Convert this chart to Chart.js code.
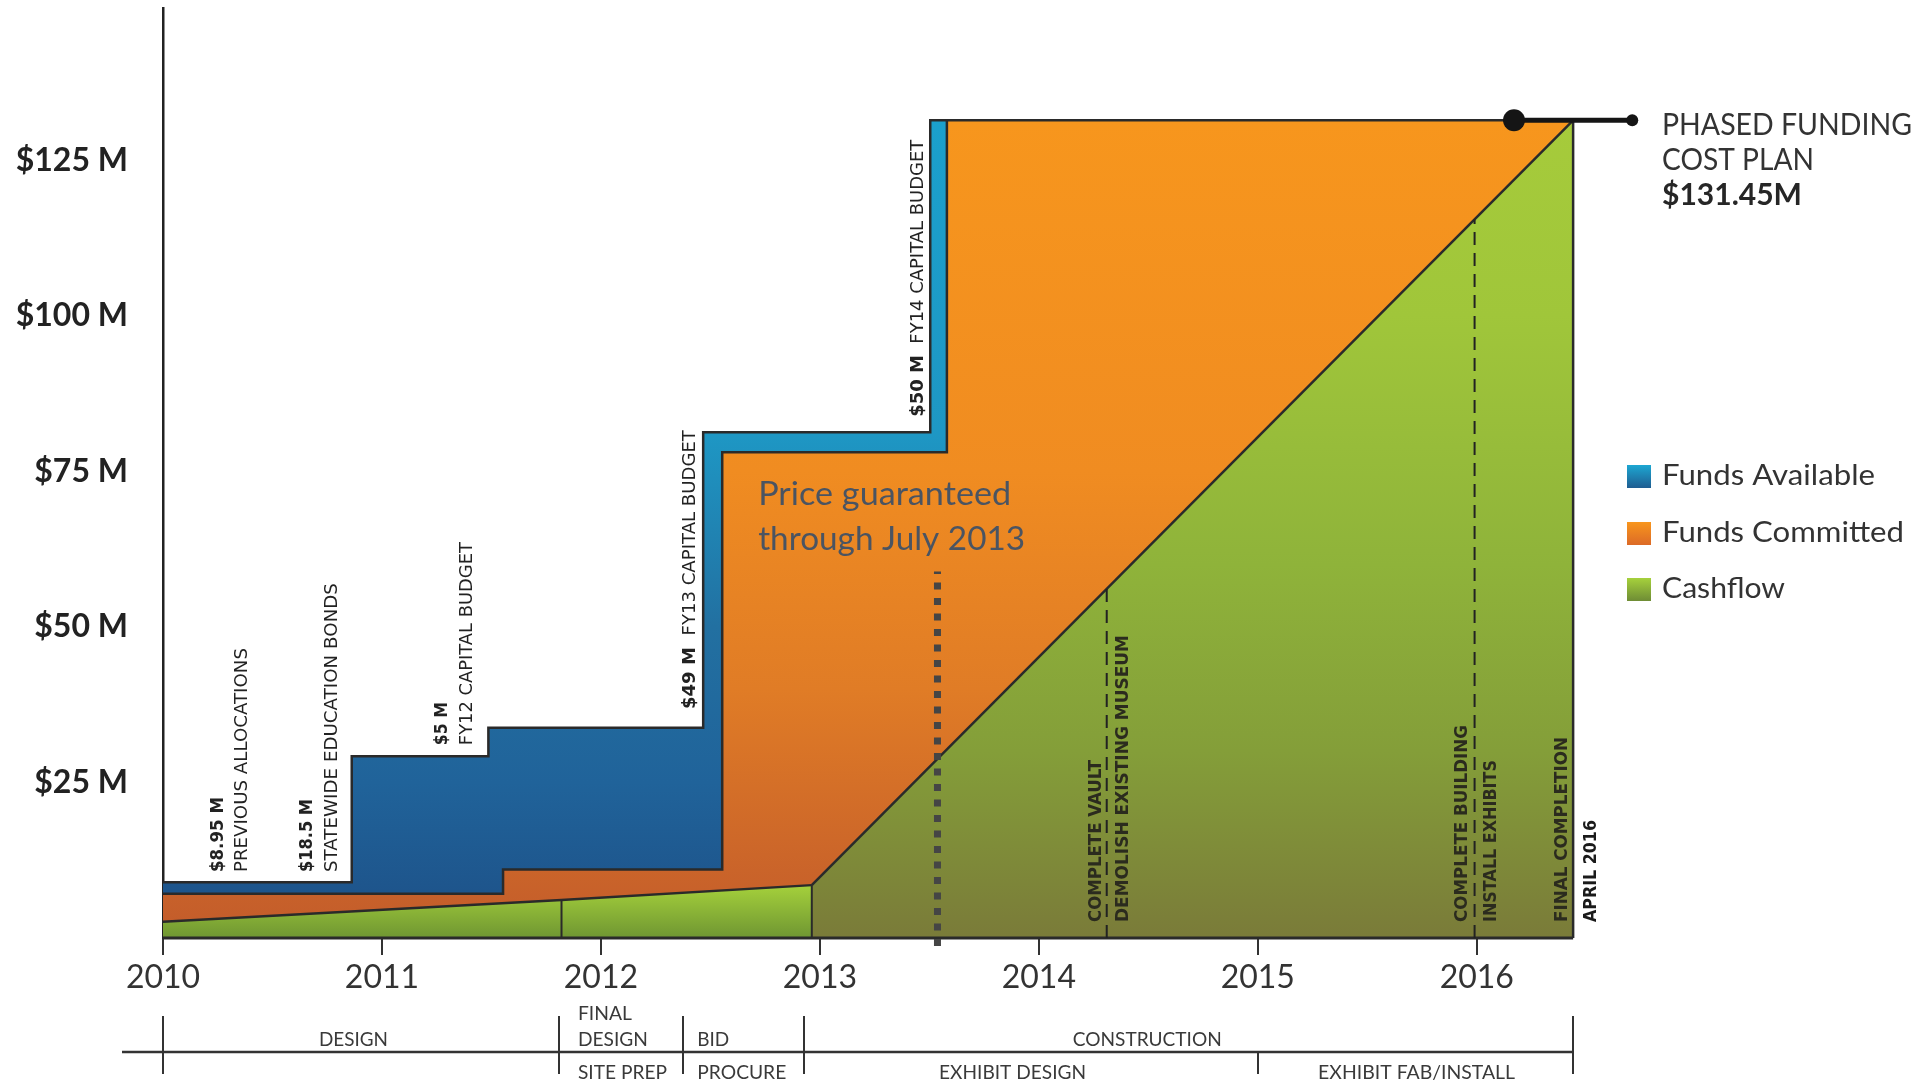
<!DOCTYPE html>
<html><head><meta charset="utf-8">
<script src="https://cdn.jsdelivr.net/npm/chart.js@4.4.0/dist/chart.umd.min.js"></script>
<style>html,body{margin:0;padding:0;background:#fff;overflow:hidden}</style>
</head><body>
<canvas id="c" width="1917" height="1081"></canvas>
<script>
// ---------- data ----------
const xTickYears = [2010, 2011, 2012, 2013, 2014, 2015, 2016];
const yTickValues = [25, 50, 75, 100, 125];
const fundsAvailableX = [2010, 2010.862, 2011.486, 2012.467, 2013.504, 2016.44];
const fundsAvailableY = [8.95, 29.2, 33.8, 81.3, 131.45, 131.45];
const fundsCommittedX = [2010, 2011.553, 2012.554, 2013.58, 2016.44];
const fundsCommittedY = [7.1, 11.0, 78.1, 131.45, 131.45];
const cashflowEarlyX = [2010, 2011.82, 2012.963];
const cashflowEarlyY = [2.6, 6.1, 8.5];
const cashflowLateX = [2012.963, 2016.44];
const cashflowLateY = [8.5, 131.45];
const costPlanX = [2016.17, 2016.71];
const costPlanY = [131.45, 131.45];
const milestoneX = [2013.537, 2014.31, 2015.99];
const milestoneTop = [58.9, 56.1, 115.5];
const milestoneBottom = [-1.3, 0, 0];
const phaseBounds = [2010, 2011.81, 2012.374, 2012.927, 2015.0, 2016.44];
const phaseMinorBounds = [2015.0];

const pts = (xs, ys) => xs.map((x, i) => ({x, y: ys[i]}));
const vline = (x, y0, y1) => [{x, y: y0}, {x, y: y1}];

function vGrad(stops) {
  return (ctx) => {
    const ch = ctx.chart, ys = ch.scales.y;
    if (!ch.chartArea || !ys) return stops[0][1];
    const y0 = ys.getPixelForValue(stops[0][0]);
    const y1 = ys.getPixelForValue(stops[stops.length - 1][0]);
    const g = ch.ctx.createLinearGradient(0, y0, 0, y1);
    stops.forEach(([v, c]) => g.addColorStop(Math.min(1, Math.max(0, (ys.getPixelForValue(v) - y0) / (y1 - y0))), c));
    return g;
  };
}

const EDGE = '#2a2a2a';
const base = {pointRadius: 0, borderColor: EDGE, borderWidth: 2.5, fill: false, clip: false, tension: 0};

const datasets = [
  Object.assign({}, base, {label: 'Funds Available', data: pts(fundsAvailableX, fundsAvailableY), stepped: true, fill: 'origin', order: 6,
    backgroundColor: vGrad([[131.45, '#1ba0cc'], [81, '#1e97c4'], [50, '#2270a1'], [25, '#20639a'], [0, '#1d4f86']])}),
  Object.assign({}, base, {label: 'Funds Committed', data: pts(fundsCommittedX, fundsCommittedY), stepped: true, fill: 'origin', order: 5,
    backgroundColor: vGrad([[131.45, '#f7961d'], [75, '#f08c21'], [40, '#e07c26'], [0, '#c25b2b']])}),
  Object.assign({}, base, {label: 'Cashflow', data: pts(cashflowLateX, cashflowLateY), fill: 'origin', order: 4,
    backgroundColor: vGrad([[131.45, '#a6cb3b'], [100, '#a0c63a'], [60, '#8fb33a'], [30, '#849e39'], [0, '#7a7b39']])}),
  Object.assign({}, base, {label: 'Cashflow (early)', data: pts(cashflowEarlyX, cashflowEarlyY), fill: 'origin', order: 4,
    backgroundColor: vGrad([[9, '#a8d43c'], [0, '#6f9632']])}),
  Object.assign({}, base, {label: 'sep1', data: vline(cashflowEarlyX[1], 0, cashflowEarlyY[1]), order: 3, borderWidth: 2}),
  Object.assign({}, base, {label: 'sep2', data: vline(cashflowLateX[0], 0, cashflowLateY[0]), order: 3, borderWidth: 2}),
  Object.assign({}, base, {label: 'sep3', data: vline(cashflowLateX[1], 0, cashflowLateY[1]), order: 3, borderWidth: 2.5}),
  Object.assign({}, base, {label: 'baseline', data: pts([2010, cashflowLateX[1]], [0, 0]), order: 2, borderWidth: 3}),
  Object.assign({}, base, {label: 'price', data: vline(milestoneX[0], milestoneBottom[0], milestoneTop[0]), order: 1, borderWidth: 7, borderColor: '#454545', borderDash: [7, 8.5]}),
  Object.assign({}, base, {label: 'vault', data: vline(milestoneX[1], milestoneBottom[1], milestoneTop[1]), order: 1, borderWidth: 2, borderColor: '#222', borderDash: [13, 8]}),
  Object.assign({}, base, {label: 'building', data: vline(milestoneX[2], milestoneBottom[2], milestoneTop[2]), order: 1, borderWidth: 2, borderColor: '#222', borderDash: [13, 8]}),
  Object.assign({}, base, {label: 'cost plan', data: pts(costPlanX, costPlanY), order: 0, borderWidth: 5, borderColor: '#151515',
    pointRadius: [11, 6], pointBackgroundColor: '#151515', pointBorderWidth: 0})
];

// ---------- text helpers ----------
function fitText(c, segs, x, y, targetLen, opts) {
  opts = opts || {};
  let total = 0;
  segs.forEach(s => { c.font = s.font; s.w = c.measureText(s.t).width; total += s.w; });
  const k = targetLen ? targetLen / total : 1;
  const len = total * k;
  c.save();
  c.translate(x, y);
  if (opts.rotate) c.rotate(-Math.PI / 2);
  let start = 0;
  if (opts.align === 'center') start = -len / 2;
  else if (opts.align === 'right') start = -len;
  c.translate(start, 0);
  c.scale(k, 1);
  c.fillStyle = opts.color || '#333';
  c.textBaseline = 'alphabetic';
  c.textAlign = 'left';
  let cx = 0;
  segs.forEach(s => { c.font = s.font; c.fillText(s.t, cx, 0); cx += s.w; });
  c.restore();
}

const RB = 'bold 18px "DejaVu Sans"', RR = '18px "DejaVu Sans"';
const CAL = (sz, w) => (w ? w + ' ' : '') + sz + 'px Lato';

// rotated annotations: x in years (baseline), y value at text start, target length px
const fundingNotes = [
  {x: 2010.274, y: 10.6, len: 75, segs: [['$8.95 M', RB]]},
  {x: 2010.384, y: 10.6, len: 224, segs: [['PREVIOUS ALLOCATIONS', RR]]},
  {x: 2010.681, y: 10.6, len: 73, segs: [['$18.5 M', RB]]},
  {x: 2010.795, y: 10.6, len: 289, segs: [['STATEWIDE EDUCATION BONDS', RR]]},
  {x: 2011.297, y: 31.0, len: 43, segs: [['$5 M', RB]]},
  {x: 2011.412, y: 31.0, len: 203, segs: [['FY12 CAPITAL BUDGET', RR]]},
  {x: 2012.430, y: 36.8, len: 279, segs: [['$49 M', RB], ['  FY13 CAPITAL BUDGET', RR]]},
  {x: 2013.472, y: 83.8, len: 277, segs: [['$50 M', RB], ['  FY14 CAPITAL BUDGET', RR]]},
  {x: 2014.285, y: 2.57, len: 162, segs: [['COMPLETE VAULT', RB]], color: '#2b2b1e'},
  {x: 2014.408, y: 2.57, len: 287, segs: [['DEMOLISH EXISTING MUSEUM', RB]], color: '#2b2b1e'},
  {x: 2015.957, y: 2.57, len: 197, segs: [['COMPLETE BUILDING', RB]], color: '#2b2b1e'},
  {x: 2016.090, y: 2.57, len: 162, segs: [['INSTALL EXHIBITS', RB]], color: '#2b2b1e'},
  {x: 2016.414, y: 2.57, len: 185, segs: [['FINAL COMPLETION', RB]], color: '#2b2b1e'},
  {x: 2016.546, y: 2.57, len: 102, segs: [['APRIL 2016', RB]], color: '#1a1a1a'}
];

const phaseLabels = [
  {t: 'DESIGN', x: 2010.87, y: 1046, w: 69, align: 'center'},
  {t: 'FINAL', x: 2011.895, y: 1020, w: 54, align: 'left'},
  {t: 'DESIGN', x: 2011.895, y: 1046, w: 70, align: 'left'},
  {t: 'SITE PREP', x: 2011.895, y: 1079, w: 89, align: 'left'},
  {t: 'BID', x: 2012.44, y: 1046, w: 32, align: 'left'},
  {t: 'PROCURE', x: 2012.44, y: 1079, w: 89, align: 'left'},
  {t: 'CONSTRUCTION', x: 2014.495, y: 1046, w: 149, align: 'center'},
  {t: 'EXHIBIT DESIGN', x: 2013.88, y: 1079, w: 147, align: 'center'},
  {t: 'EXHIBIT FAB/INSTALL', x: 2015.725, y: 1079, w: 197, align: 'center'}
];

const legendItems = [
  {t: 'Funds Available', w: 213, y: 465, g: ['#1da7d2', '#1f5d91']},
  {t: 'Funds Committed', w: 242, y: 522, g: ['#f8961d', '#dc6a27']},
  {t: 'Cashflow', w: 123, y: 578, g: ['#a6d13c', '#6e8c35']}
];

const overlay = {
  id: 'overlay',
  afterDraw(chart) {
    const c = chart.ctx, xs = chart.scales.x, ys = chart.scales.y;
    fundingNotes.forEach(n => {
      fitText(c, n.segs.map(s => ({t: s[0], font: s[1]})), xs.getPixelForValue(n.x), ys.getPixelForValue(n.y), n.len,
        {rotate: true, color: n.color || '#222'});
    });
    const px = xs.getPixelForValue(2012.718);
    fitText(c, [{t: 'Price guaranteed', font: CAL(32)}], px, ys.getPixelForValue(69.6), 253, {color: '#4a5462'});
    fitText(c, [{t: 'through July 2013', font: CAL(32)}], px, ys.getPixelForValue(62.4), 267, {color: '#4a5462'});

    fitText(c, [{t: 'PHASED FUNDING', font: CAL(31)}], 1662, 135, 250, {color: '#333'});
    fitText(c, [{t: 'COST PLAN', font: CAL(31)}], 1662, 170, 152, {color: '#333'});
    fitText(c, [{t: '$131.45M', font: CAL(31, 'bold')}], 1662, 205, 140, {color: '#262626'});

    legendItems.forEach(it => {
      const g = c.createLinearGradient(0, it.y, 0, it.y + 23);
      g.addColorStop(0, it.g[0]); g.addColorStop(1, it.g[1]);
      c.fillStyle = g; c.fillRect(1627, it.y, 24, 23);
      fitText(c, [{t: it.t, font: CAL(29)}], 1662, it.y + 20, it.w, {color: '#333'});
    });

    c.save();
    c.strokeStyle = '#333'; c.lineWidth = 2.5;
    c.beginPath(); c.moveTo(122, 1052); c.lineTo(xs.getPixelForValue(phaseBounds[phaseBounds.length - 1]), 1052); c.stroke();
    c.lineWidth = 2;
    phaseBounds.forEach(b => {
      const x = Math.round(xs.getPixelForValue(b));
      const minor = phaseMinorBounds.includes(b);
      c.beginPath(); c.moveTo(x, minor ? 1052 : 1016); c.lineTo(x, 1074); c.stroke();
    });
    c.restore();
    phaseLabels.forEach(p => {
      fitText(c, [{t: p.t, font: CAL(20)}], xs.getPixelForValue(p.x), p.y, p.w, {align: p.align, color: '#3a3a3a'});
    });
  }
};

new Chart(document.getElementById('c'), {
  type: 'line',
  data: {datasets},
  options: {
    responsive: false,
    animation: false,
    events: [],
    layout: {autoPadding: false, padding: {top: 8, right: 276, bottom: 0, left: 0}},
    plugins: {legend: {display: false}, tooltip: {enabled: false}},
    scales: {
      x: {
        type: 'linear', min: 2010, max: 2016.75,
        afterFit: s => { s.height = 143; s.paddingLeft = 0; s.paddingRight = 0; },
        afterBuildTicks: s => { s.ticks = xTickYears.map(v => ({value: v})); },
        border: {display: false},
        grid: {display: true, drawOnChartArea: false, drawTicks: true, tickLength: 17, color: '#333', lineWidth: 2},
        ticks: {font: {family: 'Lato', size: 32}, color: '#333', padding: 3, maxRotation: 0, autoSkip: false,
          callback: v => String(v)}
      },
      y: {
        type: 'linear', min: 0, max: 149.5,
        afterFit: s => { s.width = 163; s.paddingTop = 0; s.paddingBottom = 0; },
        afterBuildTicks: s => { s.ticks = yTickValues.map(v => ({value: v})); },
        border: {display: true, color: '#222', width: 2.5},
        grid: {display: false, drawTicks: false},
        ticks: {font: {family: 'Lato', size: 32, weight: 'bold'}, color: '#222', padding: 35,
          callback: v => '$' + v + ' M'}
      }
    }
  },
  plugins: [overlay]
});
</script>
</body></html>
